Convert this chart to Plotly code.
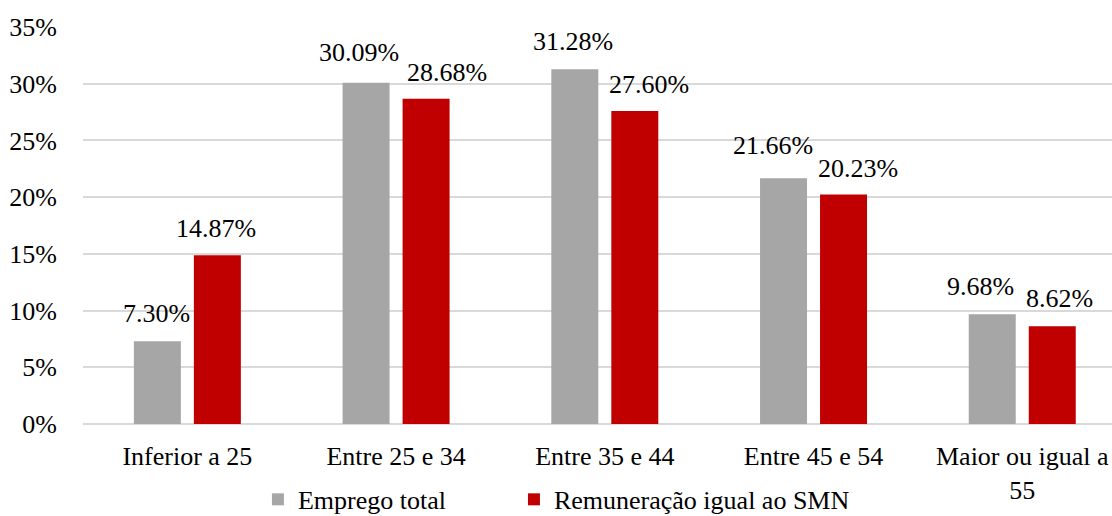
import plotly.graph_objects as go

categories = ["Inferior a 25", "Entre 25 e 34", "Entre 35 e 44", "Entre 45 e 54", "Maior ou igual a<br>55"]
emprego_total = [7.30, 30.09, 31.28, 21.66, 9.68]
remuneracao_smn = [14.87, 28.68, 27.60, 20.23, 8.62]
y_ticks = [0, 5, 10, 15, 20, 25, 30, 35]

FONT = "Liberation Serif"
FS = 26
GREY = "#a6a6a6"
RED = "#c00000"

# per-label nudges (px) so neighbouring value labels do not collide
emprego_nudge_x = [-1, -7, -2, -11, -12]
emprego_nudge_y = [1, 4, 1, 6, 1]
smn_nudge_x = [-1, 21, 14, 14, 7]
smn_nudge_y = [0, 0, 0, 0, 1]

fig = go.Figure()
fig.add_trace(go.Bar(x=categories, y=emprego_total, name="Emprego total",
                     marker=dict(color=GREY, line=dict(width=0)), legend="legend"))
fig.add_trace(go.Bar(x=categories, y=remuneracao_smn, name="Remuneração igual ao SMN",
                     marker=dict(color=RED, line=dict(width=0)), legend="legend2"))

# value labels above each bar
BAR_OFFSET = 30
for vals, side, nx, ny in ((emprego_total, -1, emprego_nudge_x, emprego_nudge_y),
                           (remuneracao_smn, 1, smn_nudge_x, smn_nudge_y)):
    for cat, v, dx, dy in zip(categories, vals, nx, ny):
        fig.add_annotation(x=cat, y=v, text=f"{v:.2f}%", showarrow=False,
                           xshift=side * BAR_OFFSET + dx, yshift=10 + dy, yanchor="bottom",
                           font=dict(family=FONT, size=FS, color="black"))

legend_style = dict(orientation="h", yanchor="middle", y=-0.19, xanchor="left",
                    font=dict(family=FONT, size=FS, color="black"),
                    itemwidth=30, bgcolor="rgba(0,0,0,0)")

fig.update_layout(
    width=1112, height=516,
    margin=dict(l=83, r=0, t=27, b=92, autoexpand=False),
    paper_bgcolor="white", plot_bgcolor="white",
    barmode="group", bargap=0.425, bargroupgap=0.217,
    font=dict(family=FONT, size=FS, color="black"),
    showlegend=True,
    legend=dict(x=0.170, **legend_style),
    legend2=dict(x=0.4188, **legend_style),
    xaxis=dict(range=[-0.5, 4.43], showgrid=False, showline=False, ticks="",
               ticklabelstandoff=14, automargin=False,
               tickfont=dict(family=FONT, size=FS, color="black")),
    yaxis=dict(range=[0, 35], tickvals=y_ticks, ticktext=[f"{t}%" for t in y_ticks],
               showgrid=True, gridcolor="#d9d9d9", gridwidth=1.5,
               zeroline=True, zerolinecolor="#d9d9d9", zerolinewidth=1.5,
               showline=False, ticks="", ticklen=0, ticklabelstandoff=25,
               automargin=False,
               tickfont=dict(family=FONT, size=FS, color="black")),
)

fig.write_html("out.html")
